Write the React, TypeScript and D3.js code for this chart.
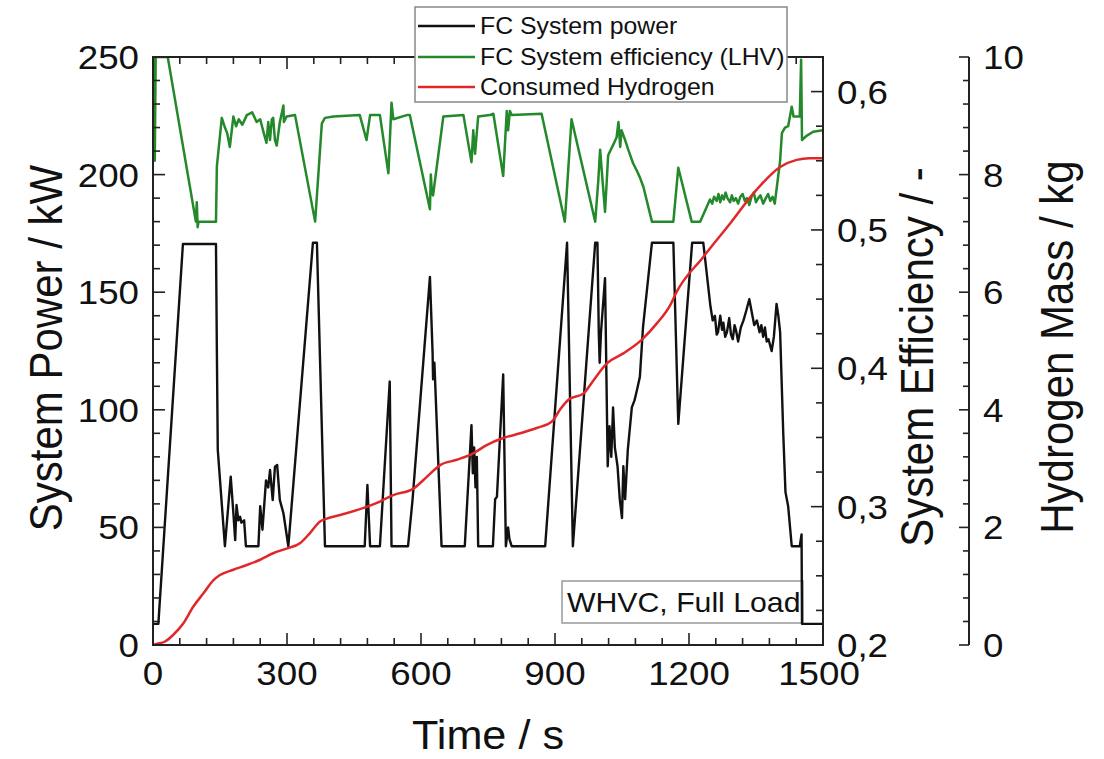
import React from "react";
import * as d3 from "d3";

// ---------- data ----------
const powerT = [0, 8, 12, 67, 141, 143, 145, 161, 174, 180, 184, 187, 191, 195, 198, 204, 208, 236, 240, 245, 253, 258, 262, 268, 273, 278, 284, 292, 303, 358, 367, 385, 474, 480, 486, 508, 530, 534, 571, 581, 620, 626, 627, 630, 646, 698, 713, 716, 719, 722, 725, 728, 761, 766, 770, 784, 790, 795, 798, 803, 878, 927, 940, 990, 995, 998, 1000, 1003, 1012, 1018, 1022, 1026, 1030, 1034, 1040, 1045, 1050, 1053, 1057, 1063, 1072, 1078, 1083, 1090, 1097, 1117, 1165, 1176, 1190, 1207, 1232, 1248, 1253, 1258, 1262, 1265, 1270, 1274, 1277, 1281, 1285, 1290, 1294, 1298, 1302, 1305, 1310, 1316, 1322, 1328, 1335, 1340, 1346, 1352, 1358, 1362, 1366, 1370, 1374, 1378, 1385, 1390, 1396, 1400, 1404, 1411, 1416, 1422, 1430, 1448, 1452, 1453, 1500];
const powerV = [9, 9, 9, 170.5, 170.5, 125, 83, 42, 71.6, 56, 44.6, 59.5, 53, 54.5, 52, 53, 42, 42, 59, 49, 70, 67, 74.4, 61.6, 75.8, 76.5, 61.6, 56, 42, 171, 171, 42, 42, 68, 42, 42, 112, 42, 42, 61.6, 156.5, 124, 113, 120, 42, 42, 93.5, 73, 84, 67, 80, 42, 42, 62, 63, 115, 42, 50, 45, 42, 42, 171, 42, 171, 171, 133, 120, 133, 156, 76, 93, 80, 101, 84, 76, 62, 54, 76, 62, 83, 101, 104, 108, 114, 135, 171, 171, 94, 129, 171, 171, 144, 138, 140, 132, 133, 140, 134, 137, 131, 133, 139, 132, 130, 136, 134, 129, 135, 138, 142, 147, 142, 136, 138, 133, 136, 131, 135, 129, 130, 125, 131, 145, 140, 133, 90, 65, 59, 42, 42, 47, 9, 9];

const effT = [0, 3, 4, 6, 33, 96, 98, 100, 102, 141, 143, 154, 160, 166, 172, 180, 186, 192, 200, 210, 222, 232, 240, 248, 254, 258, 262, 266, 269, 273, 277, 284, 292, 293, 299, 318, 363, 378, 385, 404, 463, 478, 486, 508, 527, 534, 538, 568, 575, 620, 622, 624, 627, 650, 695, 713, 717, 721, 728, 754, 762, 784, 792, 795, 799, 803, 870, 922, 937, 990, 997, 1001, 1012, 1019, 1031, 1038, 1042, 1046, 1049, 1057, 1064, 1075, 1083, 1090, 1098, 1117, 1165, 1176, 1206, 1225, 1247, 1252, 1256, 1262, 1266, 1270, 1274, 1278, 1282, 1286, 1292, 1296, 1300, 1305, 1310, 1315, 1320, 1325, 1330, 1335, 1340, 1345, 1350, 1355, 1360, 1366, 1372, 1377, 1382, 1387, 1392, 1404, 1408, 1415, 1422, 1430, 1434, 1448, 1451, 1453, 1463, 1478, 1500];
const effV = [0.6, 0.625, 0.55, 0.625, 0.625, 0.506, 0.52, 0.502, 0.506, 0.506, 0.546, 0.581, 0.575, 0.57, 0.56, 0.582, 0.575, 0.58, 0.576, 0.583, 0.585, 0.578, 0.58, 0.57, 0.563, 0.578, 0.565, 0.58, 0.581, 0.565, 0.561, 0.578, 0.59, 0.578, 0.582, 0.583, 0.506, 0.577, 0.581, 0.582, 0.583, 0.565, 0.583, 0.583, 0.541, 0.592, 0.58, 0.583, 0.583, 0.515, 0.54, 0.529, 0.525, 0.582, 0.583, 0.549, 0.572, 0.555, 0.582, 0.583, 0.584, 0.539, 0.586, 0.572, 0.586, 0.583, 0.584, 0.506, 0.58, 0.506, 0.536, 0.558, 0.513, 0.554, 0.562, 0.567, 0.578, 0.56, 0.572, 0.565, 0.558, 0.548, 0.543, 0.538, 0.531, 0.506, 0.506, 0.545, 0.506, 0.506, 0.522, 0.519, 0.524, 0.521, 0.526, 0.52, 0.525, 0.522, 0.527, 0.523, 0.52, 0.525, 0.521, 0.523, 0.519, 0.524, 0.526, 0.521, 0.523, 0.518, 0.524, 0.527, 0.52, 0.523, 0.525, 0.519, 0.523, 0.526, 0.521, 0.524, 0.519, 0.55, 0.57, 0.574, 0.575, 0.589, 0.582, 0.582, 0.623, 0.565, 0.568, 0.571, 0.572];

const h2T = [0, 10, 27, 45, 68, 90, 113, 135, 150, 180, 210, 240, 269, 299, 329, 351, 374, 389, 419, 478, 508, 538, 583, 613, 643, 680, 717, 747, 784, 822, 859, 893, 911, 930, 964, 986, 1016, 1053, 1094, 1128, 1158, 1172, 1232, 1292, 1351, 1404, 1441, 1470, 1500];
const h2V = [0, 0.02, 0.06, 0.17, 0.37, 0.65, 0.88, 1.1, 1.19, 1.28, 1.36, 1.45, 1.56, 1.64, 1.73, 1.9, 2.1, 2.15, 2.21, 2.35, 2.44, 2.55, 2.66, 2.86, 3.06, 3.15, 3.26, 3.4, 3.52, 3.6, 3.69, 3.8, 4.0, 4.17, 4.28, 4.5, 4.79, 4.96, 5.19, 5.47, 5.78, 6.0, 6.6, 7.17, 7.74, 8.13, 8.25, 8.28, 8.28];

const timeTicks = [0, 300, 600, 900, 1200, 1500];
const powerTicks = [0, 50, 100, 150, 200, 250];
const effTicks = [0.2, 0.3, 0.4, 0.5, 0.6];
const h2Ticks = [0, 2, 4, 6, 8, 10];
const legendLabels = ["FC System power", "FC System efficiency (LHV)", "Consumed Hydrogen"];
const noteLabel = "WHVC, Full Load";

const FONT = "'Liberation Sans', Arial, Helvetica, sans-serif";
const C_BLACK = "#111";
const C_GREEN = "#23892a";
const C_RED = "#e0282a";
const SX = 1.08;

export default function App() {
  const L = 153, R = 823, T = 57, B = 645, HX = 969;
  const x = d3.scaleLinear().domain([0, 1500]).range([L, R]);
  const yP = d3.scaleLinear().domain([0, 250]).range([B, T]);
  const yE = d3.scaleLinear().domain([0.2, 0.625]).range([B, T]);
  const yH = d3.scaleLinear().domain([0, 10]).range([B, T]);

  const lineP = d3.line<number>().x((_, i) => x(powerT[i])).y((d) => yP(d));
  const lineE = d3.line<number>().x((_, i) => x(effT[i])).y((d) => yE(d));
  const lineH = d3.line<number>().x((_, i) => x(h2T[i])).y((d) => yH(d)).curve(d3.curveMonotoneX);

  const xMinor = d3.range(0, 1501, 60);
  const pMinor = d3.range(0, 251, 10);
  const eMinor = d3.range(0, 18).map((i) => 0.2 + i * 0.025);
  const hMinor = d3.range(0, 26).map((i) => i * 0.4);
  const fmtE = (v: number) => d3.format(".1f")(v).replace(".", ",");

  const tickStroke = { stroke: "#222", strokeWidth: 1.6 };

  return (
    <svg width={1104} height={759} style={{ position: "absolute", left: 0, top: 0, background: "#fff" }} fontFamily={FONT}>
      <defs>
        <clipPath id="plotclip">
          <rect x={L} y={T} width={R - L} height={B - T} />
        </clipPath>
      </defs>
      <rect x={0} y={0} width={1104} height={759} fill="#fff" />

      {/* note box */}
      <rect x={562} y={581} width={241} height={42} fill="#fff" stroke="#999" strokeWidth={1.5} />
      <text transform={`translate(567,612) scale(${SX},1)`} fontSize={28} fill={C_BLACK}>{noteLabel}</text>

      {/* data */}
      <g clipPath="url(#plotclip)" fill="none" strokeLinejoin="round">
        <path d={lineE(effV) || ""} stroke={C_GREEN} strokeWidth={2.5} />
        <path d={lineP(powerV) || ""} stroke={C_BLACK} strokeWidth={2.4} />
        <path d={lineH(h2V) || ""} stroke={C_RED} strokeWidth={2.5} />
      </g>

      {/* frame */}
      <rect x={L} y={T} width={R - L} height={B - T} fill="none" stroke="#222" strokeWidth={2} />

      {/* x ticks bottom & top */}
      {xMinor.map((v) => {
        const major = v % 300 === 0;
        const len = major ? 12 : 7;
        return (
          <g key={"x" + v}>
            <line x1={x(v)} x2={x(v)} y1={B} y2={B - len} {...tickStroke} />
            <line x1={x(v)} x2={x(v)} y1={T} y2={T + len} {...tickStroke} />
          </g>
        );
      })}
      {timeTicks.map((v) => (
        <text key={"xl" + v} transform={`translate(${x(v) - (v === 1500 ? 4 : 0)},685) scale(${SX},1)`} textAnchor="middle" fontSize={34} fill={C_BLACK}>{v}</text>
      ))}

      {/* left power ticks */}
      {pMinor.map((v) => {
        const major = v % 50 === 0;
        const len = major ? 12 : 7;
        return <line key={"p" + v} x1={L} x2={L + len} y1={yP(v)} y2={yP(v)} {...tickStroke} />;
      })}
      {powerTicks.map((v) => (
        <text key={"pl" + v} transform={`translate(139,${yP(v) + 12}) scale(${SX},1)`} textAnchor="end" fontSize={34} fill={C_BLACK}>{v}</text>
      ))}

      {/* right efficiency ticks */}
      {eMinor.map((v, i) => {
        const major = i % 4 === 0;
        const len = major ? 12 : 7;
        return <line key={"e" + i} x1={R} x2={R - len} y1={yE(v)} y2={yE(v)} {...tickStroke} />;
      })}
      {effTicks.map((v) => (
        <text key={"el" + v} transform={`translate(837,${yE(v) + 12}) scale(${SX},1)`} fontSize={34} fill={C_BLACK}>{fmtE(v)}</text>
      ))}

      {/* hydrogen axis */}
      <line x1={HX} x2={HX} y1={T} y2={B} stroke="#222" strokeWidth={2} />
      {hMinor.map((v, i) => {
        const major = i % 5 === 0;
        const len = major ? 10 : 6;
        return <line key={"h" + i} x1={HX} x2={HX - len} y1={yH(v)} y2={yH(v)} {...tickStroke} />;
      })}
      {h2Ticks.map((v) => (
        <text key={"hl" + v} transform={`translate(983,${yH(v) + 12}) scale(${SX},1)`} fontSize={34} fill={C_BLACK}>{v}</text>
      ))}

      {/* axis titles */}
      <text transform={`translate(488,749) scale(${SX},1)`} textAnchor="middle" fontSize={40} fill={C_BLACK}>Time / s</text>
      <text transform={`translate(62,348) scale(${SX},1) rotate(-90)`} textAnchor="middle" fontSize={42} fill={C_BLACK}>System Power / kW</text>
      <text transform={`translate(933,357) scale(${SX},1) rotate(-90)`} textAnchor="middle" fontSize={42} fill={C_BLACK}>System Efficiency / -</text>
      <text transform={`translate(1073,347) scale(${SX},1) rotate(-90)`} textAnchor="middle" fontSize={42} fill={C_BLACK}>Hydrogen Mass / kg</text>

      {/* legend */}
      <rect x={415} y={7} width={372} height={95} fill="#fff" stroke="#888" strokeWidth={1.5} />
      {legendLabels.map((lab, i) => {
        const ly = [26, 57, 87][i];
        const col = [C_BLACK, C_GREEN, C_RED][i];
        return (
          <g key={"lg" + i}>
            <line x1={418} x2={475} y1={ly} y2={ly} stroke={col} strokeWidth={2.4} />
            <text transform={`translate(480,${ly + 8}) scale(${SX},1)`} fontSize={23} fill={C_BLACK}>{lab}</text>
          </g>
        );
      })}
    </svg>
  );
}
